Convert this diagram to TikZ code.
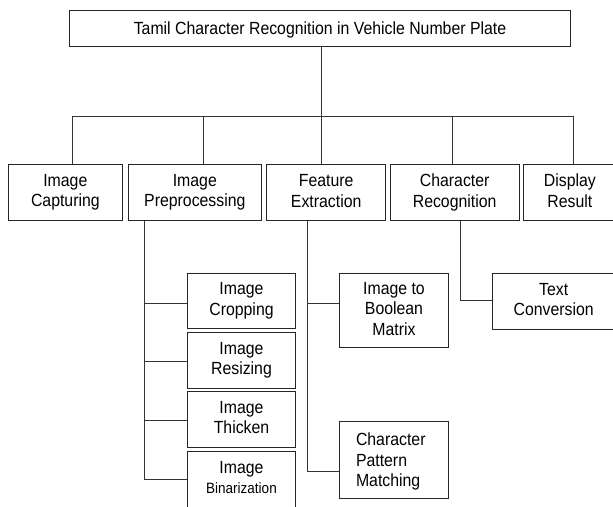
\documentclass[tikz,border=0pt]{standalone}
\usepackage{fontspec}
\setmainfont{Liberation Sans}[FakeStretch=0.9]
\newcommand\boxfont{\fontsize{17.6}{20.5}\selectfont}
\newcommand\smallboxfont{\fontsize{15}{19}\selectfont}
\newcommand\topstrut{\rule{0pt}{17pt}}
\newcommand\botstrut{\rule[-3.5pt]{0pt}{3.5pt}}
\begin{document}
\begin{tikzpicture}[x=1pt,y=-1pt,
  box/.style={draw=black!85, line width=0.9pt, inner sep=0pt, align=center, font=\boxfont,
    execute at begin node=\topstrut, execute at end node=\botstrut},
  link/.style={draw=black!80, line width=0.9pt}]
\useasboundingbox (0,0) rectangle (613,506);
\clip (0,0) rectangle (613,506);
\fill[white] (0,0) rectangle (613,506);

% root
\node[box, minimum width=501.4pt, minimum height=36pt] (title) at (320,28)
  {Tamil Character Recognition in Vehicle Number Plate};

% main stages
\node[box, minimum width=114.7pt, minimum height=56.4pt] (cap)  at (65.35,192.5)  {Image\\Capturing};
\node[box, minimum width=133.7pt, minimum height=56.4pt] (pre)  at (194.85,192.5) {Image\\Preprocessing};
\node[box, minimum width=119pt,   minimum height=56.4pt] (feat) at (326.2,192.5)  {Feature\\Extraction};
\node[box, minimum width=128.7pt, minimum height=56.4pt] (crec) at (454.65,192.5) {Character\\Recognition};
\node[box, minimum width=92.3pt,  minimum height=56.4pt] (disp) at (569.85,192.5) {Display\\Result};

% preprocessing steps
\node[box, minimum width=108.4pt, minimum height=55.7pt] (crop)  at (241.5,300.85) {Image\\Cropping};
\node[box, minimum width=108.4pt, minimum height=55.7pt] (resz)  at (241.5,360.15) {Image\\Resizing};
\node[box, minimum width=108.4pt, minimum height=56pt]   (thick) at (241.5,419.3)  {Image\\Thicken};
\node[box, minimum width=108.4pt, minimum height=56pt]   (bin)   at (241.5,479)    {Image\\\smallboxfont Binarization};

% feature extraction steps
\node[box, minimum width=109.4pt, minimum height=74.5pt] (bool) at (394,310.25) {Image to\\Boolean\\Matrix};
\node[box, align=left, text width=76pt, inner xsep=16.7pt, minimum height=77pt] (cpm) at (394,459.5)
  {Character\\Pattern\\Matching};

% recognition step
\node[box, minimum width=122.7pt, minimum height=56pt] (txt) at (553.65,301) {Text\\Conversion};

% top-level tree
\coordinate (hub) at (321,116);
\coordinate (j1) at (72,116);
\coordinate (j2) at (203,116);
\coordinate (j4) at (452.3,116);
\coordinate (j5) at (573.7,116);
\draw[link] (title.south -| hub) -- (hub);
\draw[link] (j1) -- (j5);
\draw[link] (j1) -- (j1 |- cap.north);
\draw[link] (j2) -- (j2 |- pre.north);
\draw[link] (hub) -- (hub |- feat.north);
\draw[link] (j4) -- (j4 |- crec.north);
\draw[link] (j5) -- (j5 |- disp.north);

% preprocessing spine
\coordinate (pa) at (144.3,303.7);
\coordinate (pb) at (144.3,361.3);
\coordinate (pc) at (144.3,420.7);
\coordinate (pd) at (144.3,479);
\draw[link] (pre.south -| pa) -- (pd);
\draw[link] (pa) -- (pa -| crop.west);
\draw[link] (pb) -- (pb -| resz.west);
\draw[link] (pc) -- (pc -| thick.west);
\draw[link] (pd) -- (pd -| bin.west);

% feature extraction spine
\coordinate (fa) at (307.3,303.5);
\coordinate (fb) at (307.3,471);
\draw[link] (feat.south -| fa) -- (fb);
\draw[link] (fa) -- (fa -| bool.west);
\draw[link] (fb) -- (fb -| cpm.west);

% recognition spine
\coordinate (ca) at (460.7,300.3);
\draw[link] (crec.south -| ca) -- (ca) -- (ca -| txt.west);
\end{tikzpicture}
\end{document}
